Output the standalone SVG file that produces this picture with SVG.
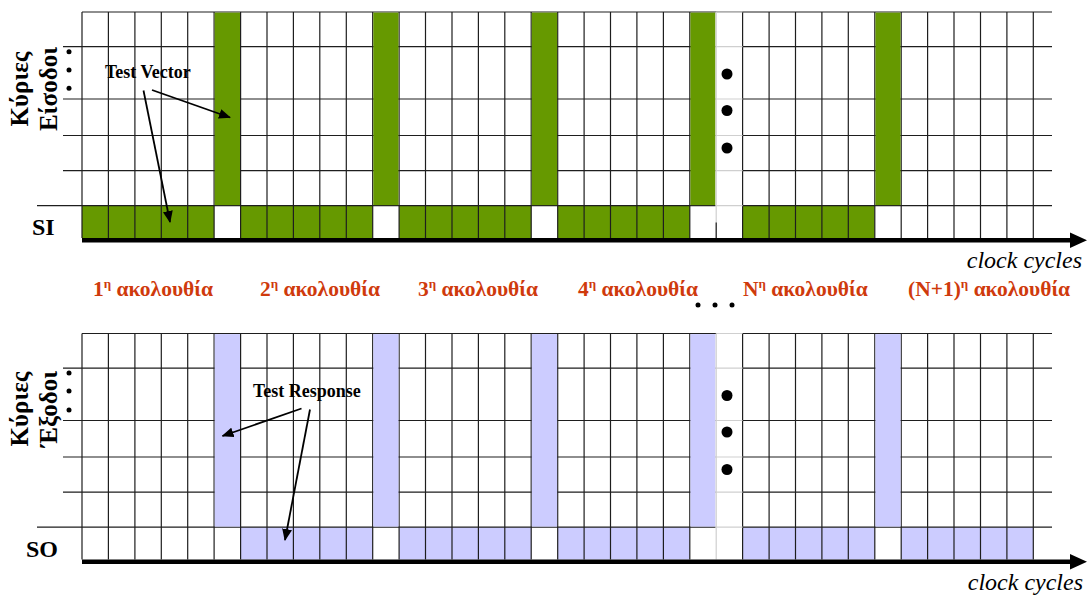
<svg xmlns="http://www.w3.org/2000/svg" xmlns:xlink="http://www.w3.org/1999/xlink" width="1090" height="596" viewBox="0 0 1090 596">
<style>
.gl{fill:none;stroke:#1e1e1e;stroke-width:1.2}
.lt{fill:none;stroke:#cfcfcf;stroke-width:1.2}
.g{fill:#669900}
.b{fill:#ccccff}
.w{fill:#ffffff}
.ax{stroke:#000;stroke-width:4.5;fill:none}
.axh{fill:#000}
.lbl{font-family:"Liberation Serif","DejaVu Serif",serif;font-weight:bold;fill:#000}
.seq{font-family:"Liberation Serif","DejaVu Serif",serif;font-weight:bold;font-size:21.5px;fill:#cf3a0c}
.clk{font-family:"Liberation Serif","DejaVu Serif",serif;font-style:italic;font-size:24px;fill:#000}
.tv{font-family:"Liberation Serif","DejaVu Serif",serif;font-weight:bold;font-size:18px;fill:#000}
.conn{stroke:#000;stroke-width:1.8;fill:none;marker-end:url(#ah)}
</style>
<defs>
<marker id="ah" markerUnits="userSpaceOnUse" markerWidth="12" markerHeight="10" refX="11" refY="5" orient="auto">
<path d="M0,0 L12,5 L0,10 z" fill="#000"/>
</marker>
<g id="lines">
<path class="gl" d="M82 12V238M108.4 12V238M134.9 12V238M161.3 12V238M187.7 12V238M214.1 12V238M240.6 12V238M267 12V238M293.4 12V238M319.8 12V238M346.3 12V238M372.7 12V238M399.1 12V238M425.5 12V238M452 12V238M478.4 12V238M504.8 12V238M531.2 12V238M557.7 12V238M584.1 12V238M610.5 12V238M636.9 12V238M663.4 12V238M689.8 12V238M742.6 12V238M769.1 12V238M795.5 12V238M821.9 12V238M848.3 12V238M874.8 12V238M901.2 12V238M927.6 12V238M954 12V238M980.5 12V238M1006.9 12V238M1033.3 12V238"/>
<path class="gl" d="M82 12H1052M63 46.7H1052M63 99H1052M63 135.5H1052M63 170.7H1052M37 205.7H1052"/>
</g>
<g id="gap">
<rect class="w" x="715.6" y="12.6" width="26.4" height="225.4"/>
<path class="lt" d="M716.2 12V238M716.2 12H742.6M716.2 46.7H742.6M716.2 99H742.6M716.2 135.5H742.6M716.2 170.7H742.6M716.2 205.7H742.6"/>
<circle cx="727" cy="74" r="5.5" fill="#000"/>
<circle cx="727" cy="110.5" r="5.5" fill="#000"/>
<circle cx="727" cy="148" r="5.5" fill="#000"/>
</g>
<g id="axis">
<line class="ax" x1="82" y1="240.3" x2="1072" y2="240.3"/>
<polygon class="axh" points="1070,232.5 1087,240.3 1070,248"/>
</g>
</defs>

<g id="top-panel">
<g id="si-cells">
<rect class="g" x="82" y="205.7" width="132.1" height="32.3"/>
<rect class="g" x="240.6" y="205.7" width="132.1" height="32.3"/>
<rect class="g" x="399.1" y="205.7" width="132.1" height="32.3"/>
<rect class="g" x="557.7" y="205.7" width="132.1" height="32.3"/>
<rect class="g" x="742.6" y="205.7" width="132.1" height="32.3"/>
</g>
<use xlink:href="#lines"/>
<g id="input-bars">
<rect class="g" x="214.7" y="12.6" width="25.3" height="192.5"/>
<rect class="g" x="373.3" y="12.6" width="25.2" height="192.5"/>
<rect class="g" x="531.8" y="12.6" width="25.3" height="192.5"/>
<rect class="g" x="690.4" y="12.6" width="25.2" height="192.5"/>
<rect class="g" x="875.4" y="12.6" width="25.2" height="192.5"/>
</g>
<use xlink:href="#gap"/>
<path class="gl" d="M716.2 222.5V238"/>
<use xlink:href="#axis"/>
<circle cx="69" cy="51.7" r="2.5" fill="#000"/>
<circle cx="69" cy="70" r="2.5" fill="#000"/>
<circle cx="69" cy="88.3" r="2.5" fill="#000"/>
<text class="lbl" font-size="25" text-anchor="middle" transform="translate(28,89) rotate(-90)">Κύριες</text>
<text class="lbl" font-size="25" text-anchor="middle" transform="translate(57,89) rotate(-90)">Είσοδοι</text>
<text class="lbl" font-size="24" x="32" y="235">SI</text>
<text class="tv" x="105" y="78">Test Vector</text>
<text class="clk" x="1082" y="268" text-anchor="end">clock cycles</text>
</g>

<g id="sequence-labels">
<text class="seq" x="93" y="296">1<tspan font-size="13" dy="-8">η</tspan><tspan dy="8"> ακολουθία</tspan></text>
<text class="seq" x="260" y="296">2<tspan font-size="13" dy="-8">η</tspan><tspan dy="8"> ακολουθία</tspan></text>
<text class="seq" x="418" y="296">3<tspan font-size="13" dy="-8">η</tspan><tspan dy="8"> ακολουθία</tspan></text>
<text class="seq" x="578" y="296">4<tspan font-size="13" dy="-8">η</tspan><tspan dy="8"> ακολουθία</tspan></text>
<text class="seq" x="743" y="296">N<tspan font-size="13" dy="-8">η</tspan><tspan dy="8"> ακολουθία</tspan></text>
<text class="seq" x="908" y="296">(N+1)<tspan font-size="13" dy="-8">η</tspan><tspan dy="8"> ακολουθία</tspan></text>
<circle cx="698" cy="305" r="2.5" fill="#000"/>
<circle cx="715" cy="305" r="2.5" fill="#000"/>
<circle cx="732" cy="305" r="2.5" fill="#000"/>
</g>

<g id="bottom-panel">
<g transform="translate(0,321.5)">
<g id="so-cells">
<rect class="b" x="240.6" y="205.7" width="132.1" height="32.3"/>
<rect class="b" x="399.1" y="205.7" width="132.1" height="32.3"/>
<rect class="b" x="557.7" y="205.7" width="132.1" height="32.3"/>
<rect class="b" x="742.6" y="205.7" width="132.1" height="32.3"/>
<rect class="b" x="901.2" y="205.7" width="132.1" height="32.3"/>
</g>
<use xlink:href="#lines"/>
<g id="output-bars">
<rect class="b" x="214.7" y="12.6" width="25.3" height="192.5"/>
<rect class="b" x="373.3" y="12.6" width="25.2" height="192.5"/>
<rect class="b" x="531.8" y="12.6" width="25.3" height="192.5"/>
<rect class="b" x="690.4" y="12.6" width="25.2" height="192.5"/>
<rect class="b" x="875.4" y="12.6" width="25.2" height="192.5"/>
</g>
<use xlink:href="#gap"/>
<use xlink:href="#axis"/>
</g>
<circle cx="69" cy="373" r="2.5" fill="#000"/>
<circle cx="69" cy="391" r="2.5" fill="#000"/>
<circle cx="69" cy="410" r="2.5" fill="#000"/>
<text class="lbl" font-size="25" text-anchor="middle" transform="translate(28,409) rotate(-90)">Κύριες</text>
<text class="lbl" font-size="25" text-anchor="middle" transform="translate(57,409) rotate(-90)">Έξοδοι</text>
<text class="lbl" font-size="24" x="26" y="556.5">SO</text>
<text class="tv" x="253" y="397">Test Response</text>
<text class="clk" x="1083" y="590" text-anchor="end">clock cycles</text>
</g>

<g id="connectors">
<line class="conn" x1="152" y1="90" x2="230" y2="117.5"/>
<line class="conn" x1="143.5" y1="90.5" x2="170" y2="222"/>
<line class="conn" x1="301.5" y1="408.5" x2="222.5" y2="436"/>
<line class="conn" x1="310" y1="409.5" x2="285" y2="540"/>
</g>
</svg>
